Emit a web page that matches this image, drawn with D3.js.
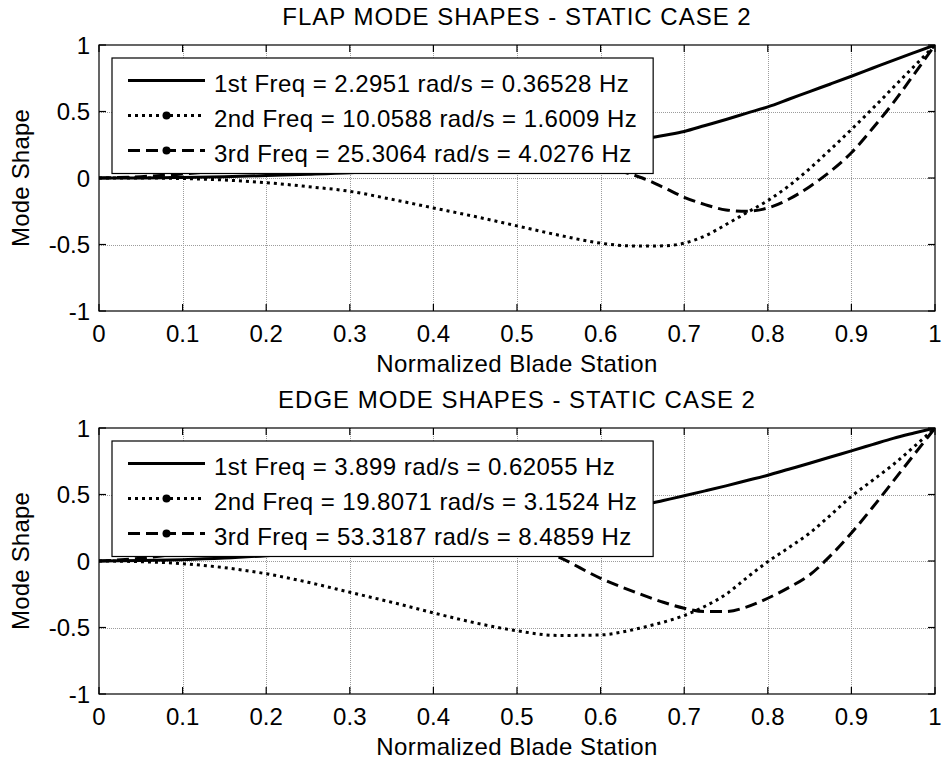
<!DOCTYPE html>
<html>
<head>
<meta charset="utf-8">
<script src="https://cdn.jsdelivr.net/npm/d3@7/dist/d3.min.js"></script>
<style>
  html, body { margin: 0; padding: 0; background: #fff; }
  svg { display: block; }
  text { font-family: "Liberation Sans", Arial, Helvetica, sans-serif; fill: #000; }
</style>
</head>
<body>
<svg id="chart" width="945" height="765"></svg>
<script>
// Normalized blade stations where the mode shapes are sampled
const stations = [0, 0.05, 0.1, 0.15, 0.2, 0.25, 0.3, 0.35, 0.4, 0.45, 0.5, 0.55, 0.6,
  0.625, 0.65, 0.675, 0.7, 0.725, 0.75, 0.775, 0.8, 0.825, 0.85, 0.875, 0.9, 0.925, 0.95, 0.975, 1];

// Flap mode shapes
const flap1 = [0, 0, 0.004, 0.01, 0.018, 0.028, 0.04, 0.058, 0.08, 0.11, 0.148, 0.19, 0.24,
  0.265, 0.29, 0.32, 0.35, 0.395, 0.44, 0.488, 0.535, 0.592, 0.65, 0.707, 0.765, 0.825, 0.885, 0.943, 1];
const flap2 = [0, 0, -0.004, -0.015, -0.035, -0.065, -0.1, -0.16, -0.225, -0.29, -0.36, -0.43, -0.49,
  -0.507, -0.512, -0.51, -0.49, -0.435, -0.35, -0.26, -0.17, -0.06, 0.07, 0.215, 0.365, 0.52, 0.68, 0.84, 1];
const flap3 = [0, 0.01, 0.03, 0.06, 0.1, 0.14, 0.18, 0.21, 0.23, 0.23, 0.21, 0.16, 0.09,
  0.05, 0, -0.07, -0.145, -0.2, -0.24, -0.25, -0.225, -0.16, -0.065, 0.05, 0.19, 0.37, 0.565, 0.78, 1];

// Edge mode shapes
const edge1 = [0, 0.003, 0.01, 0.022, 0.04, 0.062, 0.09, 0.122, 0.16, 0.2, 0.25, 0.3, 0.36,
  0.39, 0.42, 0.455, 0.49, 0.527, 0.565, 0.605, 0.645, 0.69, 0.735, 0.782, 0.828, 0.875, 0.922, 0.962, 1];
const edge2 = [0, -0.005, -0.02, -0.05, -0.096, -0.16, -0.235, -0.31, -0.39, -0.465, -0.525, -0.56, -0.556,
  -0.535, -0.5, -0.46, -0.41, -0.34, -0.25, -0.125, -0.005, 0.1, 0.21, 0.345, 0.486, 0.605, 0.725, 0.86, 1];
const edge3 = [0, 0.02, 0.06, 0.12, 0.18, 0.24, 0.28, 0.3, 0.29, 0.24, 0.15, 0.03, -0.13,
  -0.195, -0.255, -0.31, -0.355, -0.38, -0.38, -0.345, -0.28, -0.2, -0.105, 0.04, 0.21, 0.4, 0.6, 0.8, 1];

// Legend entries
const flapLabels = [
  "1st Freq = 2.2951 rad/s = 0.36528 Hz",
  "2nd Freq = 10.0588 rad/s = 1.6009 Hz",
  "3rd Freq = 25.3064 rad/s = 4.0276 Hz"
];
const edgeLabels = [
  "1st Freq = 3.899 rad/s = 0.62055 Hz",
  "2nd Freq = 19.8071 rad/s = 3.1524 Hz",
  "3rd Freq = 53.3187 rad/s = 8.4859 Hz"
];

// Tick values and labels
const xTicks = [0, 0.1, 0.2, 0.3, 0.4, 0.5, 0.6, 0.7, 0.8, 0.9, 1];
const xTickLabels = ["0", "0.1", "0.2", "0.3", "0.4", "0.5", "0.6", "0.7", "0.8", "0.9", "1"];
const yTicks = [-1, -0.5, 0, 0.5, 1];
const yTickLabels = ["-1", "-0.5", "0", "0.5", "1"];

const titles = ["FLAP MODE SHAPES - STATIC CASE 2", "EDGE MODE SHAPES - STATIC CASE 2"];
const xLabel = "Normalized Blade Station";
const yLabel = "Mode Shape";

// Line styles for the three modes
const styles = [
  { dash: null, marker: false },
  { dash: "3,4", marker: true },
  { dash: "12,6", marker: true }
];

const panels = [
  { title: titles[0], top: 45, series: [flap1, flap2, flap3], labels: flapLabels },
  { title: titles[1], top: 428, series: [edge1, edge2, edge3], labels: edgeLabels }
];

const svg = d3.select("#chart");
const left = 99, right = 935, plotH = 266;
const font = 24;
const tickLen = 7;

panels.forEach((p, pi) => {
  const top = p.top, bottom = top + plotH;
  const x = d3.scaleLinear().domain([0, 1]).range([left, right]);
  const y = d3.scaleLinear().domain([-1, 1]).range([bottom, top]);
  const g = svg.append("g");

  const clipId = "clip" + pi;
  g.append("clipPath").attr("id", clipId)
    .append("rect").attr("x", left).attr("y", top).attr("width", right - left).attr("height", plotH);

  // grid
  const grid = g.append("g").attr("stroke", "#9c9c9c").attr("stroke-width", 1)
    .attr("stroke-dasharray", "1,1").attr("shape-rendering", "crispEdges");
  xTicks.slice(1, -1).forEach(t => {
    grid.append("line").attr("x1", Math.round(x(t)) + 0.5).attr("x2", Math.round(x(t)) + 0.5)
      .attr("y1", top).attr("y2", bottom);
  });
  yTicks.slice(1, -1).forEach(t => {
    grid.append("line").attr("y1", Math.round(y(t)) + 0.5).attr("y2", Math.round(y(t)) + 0.5)
      .attr("x1", left).attr("x2", right);
  });

  // curves
  const line = d3.line().x((d, i) => x(stations[i])).y(d => y(d)).curve(d3.curveMonotoneX);
  const curves = g.append("g").attr("clip-path", `url(#${clipId})`);
  p.series.forEach((s, si) => {
    curves.append("path").datum(s).attr("d", line)
      .attr("fill", "none").attr("stroke", "#000").attr("stroke-width", 3)
      .attr("stroke-dasharray", styles[si].dash);
  });

  // axes box and inward ticks
  const axes = g.append("g").attr("stroke", "#000").attr("stroke-width", 1.2);
  axes.append("rect").attr("x", left).attr("y", top).attr("width", right - left).attr("height", plotH)
    .attr("fill", "none");
  xTicks.forEach(t => {
    axes.append("line").attr("x1", x(t)).attr("x2", x(t)).attr("y1", bottom).attr("y2", bottom - tickLen);
    axes.append("line").attr("x1", x(t)).attr("x2", x(t)).attr("y1", top).attr("y2", top + tickLen);
  });
  yTicks.forEach(t => {
    axes.append("line").attr("y1", y(t)).attr("y2", y(t)).attr("x1", left).attr("x2", left + tickLen);
    axes.append("line").attr("y1", y(t)).attr("y2", y(t)).attr("x1", right).attr("x2", right - tickLen);
  });

  // tick labels
  xTicks.forEach((t, i) => {
    g.append("text").attr("x", x(t)).attr("y", bottom + 31).attr("text-anchor", "middle")
      .attr("font-size", font).text(xTickLabels[i]);
  });
  yTicks.forEach((t, i) => {
    g.append("text").attr("x", left - 9).attr("y", y(t)).attr("dy", "0.36em").attr("text-anchor", "end")
      .attr("font-size", font).text(yTickLabels[i]);
  });

  // title and axis labels
  g.append("text").attr("x", (left + right) / 2).attr("y", top - 20.5).attr("text-anchor", "middle")
    .attr("font-size", font).attr("letter-spacing", 1.0).text(p.title);
  g.append("text").attr("x", (left + right) / 2).attr("y", bottom + 61).attr("text-anchor", "middle")
    .attr("font-size", font).attr("letter-spacing", 0.45).text(xLabel);
  g.append("text").attr("transform", `translate(29,${(top + bottom) / 2}) rotate(-90)`)
    .attr("text-anchor", "middle").attr("font-size", font).attr("letter-spacing", 0.2).text(yLabel);

  // legend
  const lx = left + 13, ly = top + 13;
  const leg = g.append("g");
  const box = leg.append("rect").attr("x", lx).attr("y", ly).attr("height", 115.5)
    .attr("fill", "#fff").attr("stroke", "#000").attr("stroke-width", 1.2);
  let maxW = 0;
  p.labels.forEach((lab, i) => {
    const base = ly + 34 + i * 35;
    const ymid = base - 11.5;
    leg.append("line").attr("x1", lx + 16).attr("x2", lx + 93).attr("y1", ymid).attr("y2", ymid)
      .attr("stroke", "#000").attr("stroke-width", 3).attr("stroke-dasharray", styles[i].dash);
    if (styles[i].marker) {
      leg.append("circle").attr("cx", lx + 54.5).attr("cy", ymid).attr("r", 4).attr("fill", "#000");
    }
    const t = leg.append("text").attr("x", lx + 102).attr("y", base).attr("font-size", font)
      .attr("letter-spacing", 0.45).text(lab);
    maxW = Math.max(maxW, t.node().getComputedTextLength());
  });
  box.attr("width", 102 + maxW + 16);
});
</script>
</body>
</html>
